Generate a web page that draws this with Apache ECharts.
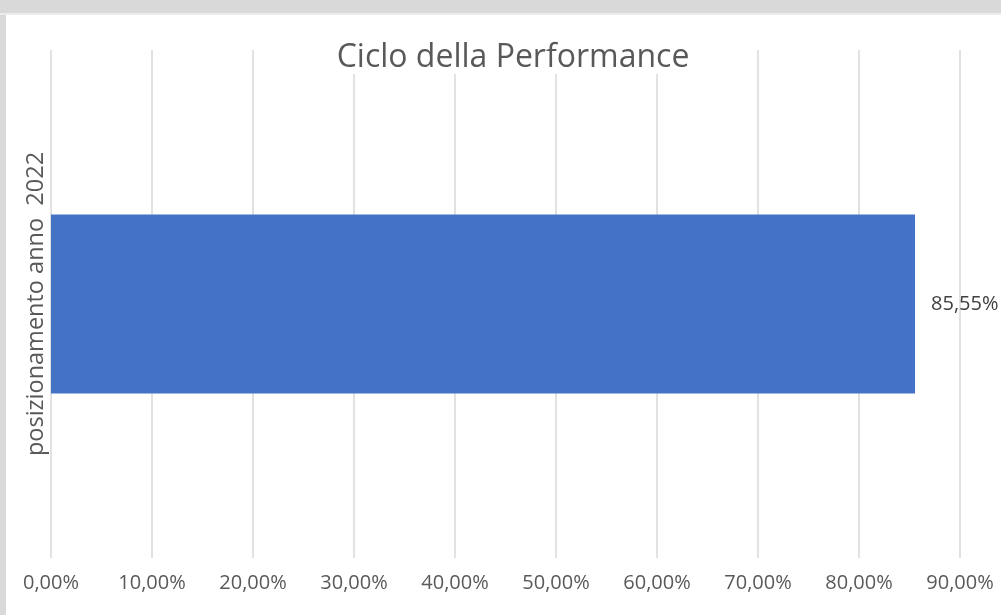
<!DOCTYPE html>
<html>
<head>
<meta charset="utf-8">
<script src="https://cdn.jsdelivr.net/npm/echarts@6/dist/echarts.min.js"></script>
<style>
html,body{margin:0;padding:0;background:#fff;}
#c{width:1001px;height:615px;}
</style>
</head>
<body>
<div id="c"></div>
<script>
const chartTitle = 'Ciclo della Performance';
const categories = ['posizionamento anno  2022'];
const values = [0.8555];
const xTicks = [0, 0.1, 0.2, 0.3, 0.4, 0.5, 0.6, 0.7, 0.8, 0.9];

function pct(v) {
  return (v * 100).toFixed(2).replace('.', ',') + '%';
}

const chart = echarts.init(document.getElementById('c'));
chart.setOption({
  backgroundColor: '#ffffff',
  animation: false,
  textStyle: { fontFamily: 'Open Sans, Noto Sans, sans-serif' },
  title: {
    text: chartTitle,
    left: 509,
    top: 45,
    textAlign: 'center',
    backgroundColor: '#ffffff',
    padding: [0, 4, 0, 4],
    textStyle: { fontSize: 32, fontWeight: 'normal', color: '#595959', fontFamily: 'Open Sans, Noto Sans, sans-serif', lineHeight: 26 },
    z: 10
  },
  graphic: [
    { type: 'rect', left: 0, top: 0, shape: { width: 1001, height: 13 }, style: { fill: '#d9d9d9' }, z: 100 },
    { type: 'rect', left: 0, top: 13, shape: { width: 1001, height: 2 }, style: { fill: '#ececec' }, z: 100 },
    { type: 'rect', left: 0, top: 15, shape: { width: 6, height: 600 }, style: { fill: '#d9d9d9' }, z: 100 }
  ],
  grid: { left: 51, right: 41, top: 50, bottom: 57, containLabel: false },
  xAxis: {
    type: 'value',
    min: xTicks[0],
    max: xTicks[xTicks.length - 1],
    interval: 0.1,
    axisLine: { show: false },
    axisTick: { show: false },
    splitLine: { show: true, lineStyle: { color: '#d9d9d9', width: 1.5 } },
    axisLabel: {
      formatter: pct,
      fontSize: 20,
      color: '#595959',
      margin: 15
    }
  },
  yAxis: {
    type: 'category',
    data: categories,
    axisLine: { show: false },
    axisTick: { show: false },
    axisLabel: {
      rotate: 90,
      fontSize: 23.5,
      color: '#595959',
      margin: 3
    }
  },
  series: [{
    type: 'bar',
    data: values,
    barWidth: '35.2%',
    itemStyle: { color: '#4472c4' },
    label: {
      show: true,
      position: 'right',
      distance: 16,
      formatter: p => pct(p.value),
      fontSize: 20,
      color: '#404040'
    }
  }]
});
</script>
</body>
</html>
